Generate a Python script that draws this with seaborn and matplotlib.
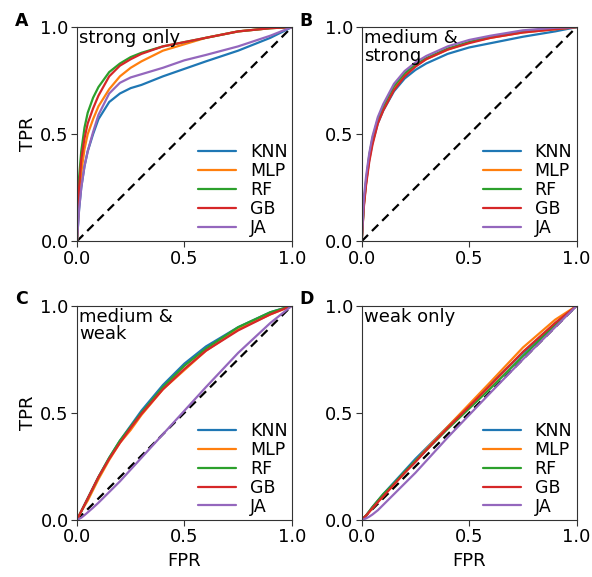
# ROC curves for four feature sets, five classifiers each
import numpy as np
import pandas as pd
import matplotlib
matplotlib.use("Agg")
import matplotlib.pyplot as plt
import seaborn as sns

# --------------------------
# Data
# --------------------------
models = ["KNN", "MLP", "RF", "GB", "JA"]
panels = ["A", "B", "C", "D"]
panel_titles = ["strong only", "medium &\nstrong", "medium &\nweak", "weak only"]

fpr = [0.0, 0.01, 0.02, 0.035, 0.05, 0.075, 0.1, 0.15, 0.2, 0.25, 0.3, 0.4, 0.5, 0.6, 0.75, 0.9, 1.0]

# A: strong only
tpr_a_knn = [0.0, 0.15, 0.25, 0.35, 0.42, 0.5, 0.57, 0.65, 0.69, 0.715, 0.73, 0.77, 0.805, 0.84, 0.89, 0.95, 1.0]
tpr_a_mlp = [0.0, 0.2, 0.32, 0.43, 0.5, 0.57, 0.63, 0.71, 0.77, 0.81, 0.84, 0.89, 0.92, 0.95, 0.98, 0.995, 1.0]
tpr_a_rf = [0.0, 0.3, 0.42, 0.53, 0.6, 0.67, 0.72, 0.79, 0.83, 0.86, 0.88, 0.91, 0.93, 0.95, 0.98, 0.995, 1.0]
tpr_a_gb = [0.0, 0.25, 0.38, 0.48, 0.55, 0.62, 0.68, 0.77, 0.82, 0.85, 0.875, 0.91, 0.93, 0.95, 0.98, 0.995, 1.0]
tpr_a_ja = [0.0, 0.15, 0.25, 0.35, 0.42, 0.51, 0.59, 0.69, 0.74, 0.765, 0.78, 0.81, 0.845, 0.87, 0.91, 0.96, 1.0]

# B: medium & strong
tpr_b_knn = [0.0, 0.17, 0.27, 0.38, 0.46, 0.55, 0.61, 0.70, 0.76, 0.80, 0.83, 0.875, 0.905, 0.925, 0.955, 0.98, 1.0]
tpr_b_mlp = [0.0, 0.17, 0.27, 0.39, 0.47, 0.56, 0.62, 0.715, 0.775, 0.82, 0.85, 0.895, 0.93, 0.95, 0.975, 0.99, 1.0]
tpr_b_rf = [0.0, 0.18, 0.28, 0.40, 0.48, 0.57, 0.63, 0.725, 0.785, 0.825, 0.855, 0.90, 0.93, 0.955, 0.978, 0.993, 1.0]
tpr_b_gb = [0.0, 0.16, 0.26, 0.37, 0.45, 0.55, 0.61, 0.705, 0.77, 0.815, 0.85, 0.895, 0.925, 0.95, 0.975, 0.99, 1.0]
tpr_b_ja = [0.0, 0.2, 0.3, 0.41, 0.49, 0.58, 0.64, 0.735, 0.795, 0.835, 0.865, 0.91, 0.94, 0.96, 0.985, 0.997, 1.0]

# C: medium & weak
tpr_c_knn = [0.0, 0.02, 0.04, 0.07, 0.1, 0.15, 0.2, 0.29, 0.37, 0.44, 0.51, 0.63, 0.73, 0.81, 0.90, 0.97, 1.0]
tpr_c_mlp = [0.0, 0.02, 0.04, 0.065, 0.09, 0.14, 0.19, 0.28, 0.36, 0.42, 0.49, 0.61, 0.70, 0.79, 0.89, 0.96, 1.0]
tpr_c_rf = [0.0, 0.02, 0.04, 0.07, 0.1, 0.15, 0.2, 0.29, 0.37, 0.435, 0.50, 0.62, 0.72, 0.80, 0.90, 0.97, 1.0]
tpr_c_gb = [0.0, 0.02, 0.04, 0.07, 0.1, 0.15, 0.2, 0.285, 0.36, 0.43, 0.495, 0.61, 0.705, 0.79, 0.885, 0.96, 1.0]
tpr_c_ja = [0.0, 0.005, 0.01, 0.022, 0.035, 0.057, 0.08, 0.13, 0.18, 0.235, 0.29, 0.4, 0.51, 0.62, 0.78, 0.92, 1.0]

# D: weak only
tpr_d_knn = [0.0, 0.01, 0.02, 0.04, 0.06, 0.09, 0.12, 0.175, 0.23, 0.285, 0.335, 0.435, 0.535, 0.635, 0.78, 0.915, 1.0]
tpr_d_mlp = [0.0, 0.01, 0.02, 0.037, 0.055, 0.083, 0.11, 0.165, 0.22, 0.275, 0.33, 0.435, 0.54, 0.645, 0.805, 0.935, 1.0]
tpr_d_rf = [0.0, 0.01, 0.02, 0.04, 0.06, 0.09, 0.12, 0.17, 0.225, 0.275, 0.325, 0.425, 0.52, 0.615, 0.765, 0.91, 1.0]
tpr_d_gb = [0.0, 0.01, 0.02, 0.037, 0.055, 0.083, 0.11, 0.165, 0.22, 0.27, 0.325, 0.43, 0.53, 0.63, 0.785, 0.92, 1.0]
tpr_d_ja = [0.0, 0.003, 0.007, 0.015, 0.025, 0.045, 0.07, 0.12, 0.17, 0.22, 0.275, 0.385, 0.49, 0.595, 0.75, 0.9, 1.0]

tpr_all = [
    [tpr_a_knn, tpr_a_mlp, tpr_a_rf, tpr_a_gb, tpr_a_ja],
    [tpr_b_knn, tpr_b_mlp, tpr_b_rf, tpr_b_gb, tpr_b_ja],
    [tpr_c_knn, tpr_c_mlp, tpr_c_rf, tpr_c_gb, tpr_c_ja],
    [tpr_d_knn, tpr_d_mlp, tpr_d_rf, tpr_d_gb, tpr_d_ja],
]

rows = []
for p, curves in zip(panels, tpr_all):
    for m, tpr in zip(models, curves):
        for x, y in zip(fpr, tpr):
            rows.append({"panel": p, "model": m, "FPR": x, "TPR": y})
df = pd.DataFrame(rows)

# --------------------------
# Figure
# --------------------------
sns.set_style("ticks")
plt.rcParams["font.family"] = ["DejaVu Sans"]
plt.rcParams["text.color"] = "black"
plt.rcParams["axes.labelcolor"] = "black"
plt.rcParams["xtick.color"] = "black"
plt.rcParams["ytick.color"] = "black"

fig = plt.figure(figsize=(5.92, 5.77), dpi=100)
lefts = [0.130, 0.611, 0.130, 0.611]
bottoms = [0.582, 0.582, 0.099, 0.099]
w, h = 0.363, 0.371
palette = sns.color_palette("tab10", 5)

for i, p in enumerate(panels):
    ax = fig.add_axes([lefts[i], bottoms[i], w, h])
    sub = df[df["panel"] == p]
    ax.plot([0, 1], [0, 1], ls="--", color="black", lw=1.6, dashes=(4, 2.5), zorder=1)
    sns.lineplot(data=sub, x="FPR", y="TPR", hue="model", hue_order=models,
                 palette=palette, lw=1.6, ax=ax, zorder=2)
    ax.set_xlim(0, 1)
    ax.set_ylim(0, 1)
    ax.set_xticks([0, 0.5, 1.0])
    ax.set_yticks([0, 0.5, 1.0])
    ax.set_xticklabels(["0.0", "0.5", "1.0"])
    ax.set_yticklabels(["0.0", "0.5", "1.0"])
    ax.tick_params(labelsize=13, length=4, width=0.8, pad=2, color="#333333")
    for s in ax.spines.values():
        s.set_linewidth(0.8)
        s.set_color("#333333")

    ax.set_xlabel("FPR" if i >= 2 else "", fontsize=13, labelpad=4)
    ax.set_ylabel("TPR" if i % 2 == 0 else "", fontsize=13, labelpad=2)

    ax.text(0.01, 0.99, panel_titles[i], transform=ax.transAxes, fontsize=13,
            va="top", ha="left", linespacing=0.95)
    ax.text(-0.29, 1.03, p, transform=ax.transAxes, fontsize=12.5, fontweight="bold",
            va="center", ha="left")

    ax.legend(loc="lower right", frameon=False, fontsize=12.5, handlelength=2.2,
              handletextpad=0.8, labelspacing=0.05, borderaxespad=0.15, borderpad=0.1,
              title=None)

fig.savefig("out.png", dpi=100)
